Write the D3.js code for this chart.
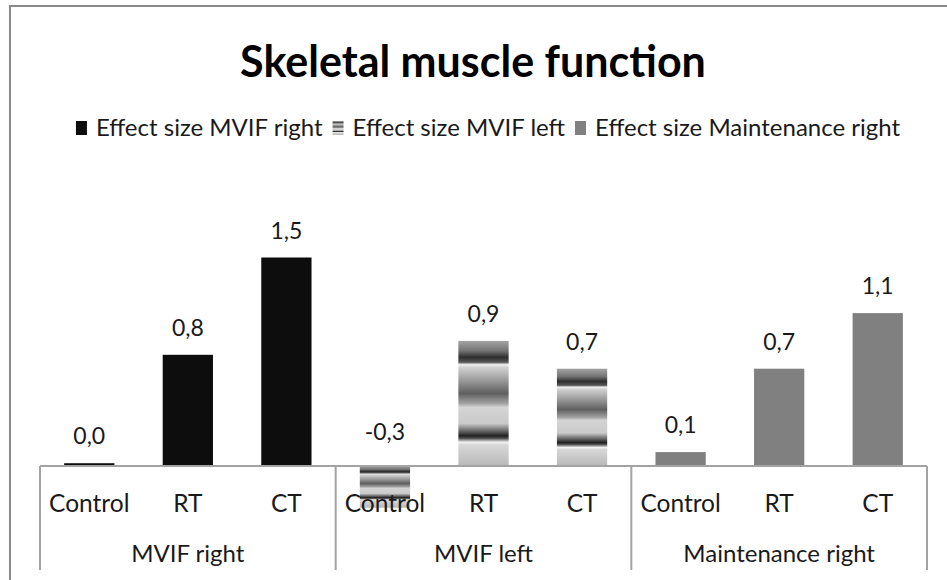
<!DOCTYPE html>
<html>
<head>
<meta charset="utf-8">
<script src="https://cdn.jsdelivr.net/npm/d3@7"></script>
<style>
  html, body { margin: 0; padding: 0; background: #fff; }
  svg { display: block; font-family: Lato, "Open Sans", sans-serif; }
</style>
</head>
<body>
<svg id="chart" width="947" height="580"></svg>
<script>
// Effect sizes per outcome group and training arm
const groups = ["MVIF right", "MVIF left", "Maintenance right"];
const categories = ["Control", "RT", "CT"];
const seriesNames = ["Effect size MVIF right", "Effect size MVIF left", "Effect size Maintenance right"];
const mvifRight = [0.02, 0.8, 1.5];
const mvifLeft = [-0.3, 0.9, 0.7];
const maintenanceRight = [0.1, 0.7, 1.1];
const seriesValues = [mvifRight, mvifLeft, maintenanceRight];

const svg = d3.select("#chart");
const W = 947, H = 580;

// Chrome-like banded fill used by the MVIF left series
const bandStops = [
  [0.00, "#a4a4a4"], [0.08, "#737373"], [0.13, "#2e2e2e"], [0.17, "#555"],
  [0.19, "#f2f2f2"], [0.21, "#d2d2d2"], [0.30, "#a3a3a3"], [0.42, "#5f5f5f"],
  [0.50, "#a2a2a2"], [0.53, "#d4d4d4"], [0.66, "#cacaca"], [0.73, "#555"],
  [0.76, "#1f1f1f"], [0.78, "#555"], [0.81, "#f2f2f2"], [0.83, "#d8d8d8"],
  [1.00, "#b8b8b8"]
];
const defs = svg.append("defs");
const grad = defs.append("linearGradient")
  .attr("id", "bandFill").attr("x1", 0).attr("y1", 0).attr("x2", 0).attr("y2", 1);
grad.selectAll("stop").data(bandStops).join("stop")
  .attr("offset", d => d[0]).attr("stop-color", d => d[1]);

const seriesFill = ["#0d0d0d", "url(#bandFill)", "#808080"];

// Outer chart frame
svg.append("rect")
  .attr("x", 10).attr("y", 6).attr("width", W + 20).attr("height", H + 20)
  .attr("fill", "none").attr("stroke", "#8a8a8a").attr("stroke-width", 2);

// Title
svg.append("text")
  .attr("x", 473).attr("y", 77)
  .attr("text-anchor", "middle")
  .attr("font-size", 43).attr("font-weight", 700).attr("fill", "#000")
  .text("Skeletal muscle function");

// Legend
const legend = svg.append("g");
let lx = 0;
seriesNames.forEach((name, i) => {
  const item = legend.append("g").attr("transform", `translate(${lx},0)`);
  item.append("rect").attr("x", 0).attr("y", -15).attr("width", 11).attr("height", 14)
    .attr("fill", seriesFill[i]);
  const t = item.append("text").attr("x", 20).attr("y", 0)
    .attr("font-size", 24).attr("fill", "#1a1a1a").text(name);
  lx += 20 + t.node().getComputedTextLength() + 10;
});
const legendW = lx - 10;
legend.attr("transform", `translate(${488 - legendW / 2},136)`);

// Scales
const keys = [];
groups.forEach(g => categories.forEach(c => keys.push(g + "|" + c)));
const x = d3.scaleBand().domain(keys).range([40, 927]).paddingInner(0.49).paddingOuter(0.245);
const y = d3.scaleLinear().domain([-0.5, 2]).range([535.5, 188]);

const data = [];
groups.forEach((g, gi) => categories.forEach((c, ci) => {
  data.push({ key: g + "|" + c, group: g, cat: c, series: gi, value: seriesValues[gi][ci] });
}));

const fmt = d3.formatLocale({ decimal: ",", thousands: ".", grouping: [3], currency: ["", ""], minus: "-" }).format(".1f");

// Bars
svg.append("g").selectAll("rect").data(data).join("rect")
  .attr("x", d => x(d.key))
  .attr("width", x.bandwidth())
  .attr("y", d => y(Math.max(0, d.value)))
  .attr("height", d => Math.abs(y(d.value) - y(0)))
  .attr("fill", d => seriesFill[d.series]);

// Value labels
svg.append("g").selectAll("text").data(data).join("text")
  .attr("x", d => x(d.key) + x.bandwidth() / 2)
  .attr("y", d => d.value >= 0 ? y(d.value) - 19 : y(0) - 26)
  .attr("text-anchor", "middle")
  .attr("font-size", 23).attr("fill", "#1a1a1a")
  .text(d => fmt(d.value));

// Category axis with grouped labels
const axisColor = "#a3a3a3";
const axisBottom = 570;
const step = x.step();
const x0 = x.range()[0];
const axis = svg.append("g");
axis.append("line")
  .attr("x1", x0).attr("x2", x.range()[1])
  .attr("y1", y(0)).attr("y2", y(0))
  .attr("stroke", axisColor).attr("stroke-width", 2);
d3.range(groups.length + 1).forEach(i => {
  const gx = x0 + i * categories.length * step;
  axis.append("line")
    .attr("x1", gx).attr("x2", gx).attr("y1", y(0)).attr("y2", axisBottom)
    .attr("stroke", axisColor).attr("stroke-width", 2);
});
axis.selectAll("text.cat").data(data).join("text").attr("class", "cat")
  .attr("x", d => x(d.key) + x.bandwidth() / 2)
  .attr("y", 512)
  .attr("text-anchor", "middle").attr("font-size", 24.5).attr("fill", "#1a1a1a")
  .text(d => d.cat);
axis.selectAll("text.grp").data(groups).join("text").attr("class", "grp")
  .attr("x", (d, i) => x0 + (i + 0.5) * categories.length * step)
  .attr("y", 562)
  .attr("text-anchor", "middle").attr("font-size", 24).attr("fill", "#1a1a1a")
  .text(d => d);
</script>
</body>
</html>
